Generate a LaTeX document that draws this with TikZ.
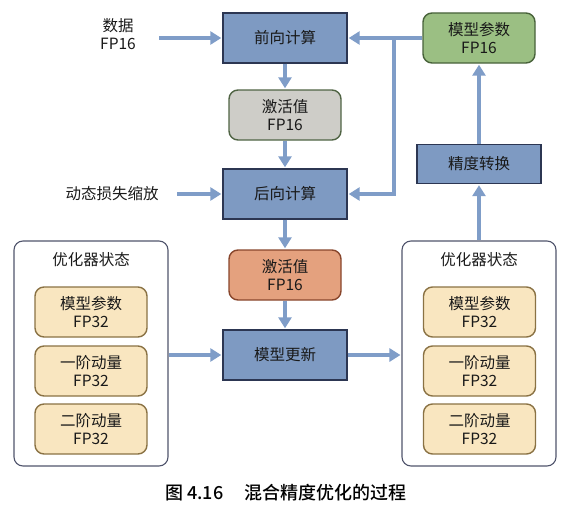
\documentclass[tikz,border=0pt]{standalone}
\usepackage{fontspec}
\setmainfont{Noto Sans CJK SC}
\newfontfamily\capfont{Noto Sans CJK SC}[UprightFont=* Medium]
\usetikzlibrary{arrows.meta}
\definecolor{bfill}{RGB}{126,154,194}
\definecolor{bdraw}{RGB}{44,54,82}
\definecolor{arrc}{RGB}{127,157,200}
\definecolor{gfill}{RGB}{206,205,200}
\definecolor{gdraw}{RGB}{80,100,68}
\definecolor{ofill}{RGB}{228,161,126}
\definecolor{odraw}{RGB}{136,70,44}
\definecolor{grfill}{RGB}{155,191,131}
\definecolor{grdraw}{RGB}{72,98,58}
\definecolor{yfill}{RGB}{249,230,192}
\definecolor{ydraw}{RGB}{138,114,68}
\definecolor{odrw}{RGB}{80,84,108}
\tikzset{
  txt/.style={font=\fontsize{15.5}{18}\selectfont, align=center, text=black!90},
  bluebox/.style={txt, draw=bdraw, fill=bfill, line width=1.4pt, minimum width=124pt, minimum height=50pt, inner sep=0pt},
  rbox/.style={txt, rounded corners=9pt, line width=1.4pt, minimum width=112pt, minimum height=50pt, inner sep=0pt},
  graybox/.style={rbox, draw=gdraw, fill=gfill},
  orangebox/.style={rbox, draw=odraw, fill=ofill},
  greenbox/.style={rbox, draw=grdraw, fill=grfill},
  ybox/.style={rbox, draw=ydraw, fill=yfill, minimum width=112pt},
  outer/.style={draw=odrw, rounded corners=9pt, line width=1.1pt, minimum width=154pt, minimum height=225pt, inner sep=0pt},
  arr/.style={draw=arrc, line width=4.5pt, -{Triangle[width=13pt,length=11pt]}, shorten >=1pt},
}
\begin{document}
\begin{tikzpicture}[x=1pt,y=-1pt]
\useasboundingbox (0,0) rectangle (583,519);
% main column
\node[bluebox] (fwd) at (285,38) {前向计算};
\node[graybox] (act1) at (285,115) {激活值\\FP16};
\node[bluebox] (bwd) at (285,194) {后向计算};
\node[orangebox] (act2) at (285,275) {激活值\\FP16};
\node[bluebox] (upd) at (285,355) {模型更新};
% right column
\node[greenbox] (p16) at (479,38) {模型参数\\FP16};
\node[bluebox, minimum height=39pt] (conv) at (479,164) {精度转换};
% outer boxes
\node[outer] (lout) at (91,353.5) {};
\node[outer] (rout) at (479,353.5) {};
\node[txt] (ltitle) at (91,260) {优化器状态};
\node[txt] (rtitle) at (479,260) {优化器状态};
\node[ybox] (l1) at (91,312) {模型参数\\FP32};
\node[ybox] (l2) at (91,371) {一阶动量\\FP32};
\node[ybox] (l3) at (91,429) {二阶动量\\FP32};
\node[ybox] (r1) at (479.5,312) {模型参数\\FP32};
\node[ybox] (r2) at (479.5,371) {一阶动量\\FP32};
\node[ybox] (r3) at (479.5,429) {二阶动量\\FP32};
% inputs
\node[txt] (data) at (118,34) {数据\\FP16};
\node[txt] (loss) at (112,194) {动态损失缩放};
\coordinate (datain) at (159,38);
\coordinate (lossin) at (177,194);
\coordinate (jn) at (394,38);
% caption
\node[font=\fontsize{18}{20}\capfont, text=black] (cap) at (286,493) {图 4.16\hspace{1.2em}混合精度优化的过程};
% connectors
\draw[arr] (datain) -- (fwd.west);
\draw[arr] (lossin) -- (bwd.west);
\draw[arr] (fwd.south) -- (act1.north);
\draw[arr] (act1.south) -- (bwd.north);
\draw[arr] (bwd.south) -- (act2.north);
\draw[arr] (act2.south) -- (upd.north);
\draw[arr] (lout.east |- upd.west) -- (upd.west);
\draw[arr] (upd.east) -- (rout.west |- upd.east);
\draw[arr] (rout.north) -- (conv.south);
\draw[arr] (conv.north) -- (conv.north |- p16.south);
\draw[arr] (p16.west) -- (fwd.east);
\draw[arr] (jn) |- (bwd.east);
\end{tikzpicture}
\end{document}
